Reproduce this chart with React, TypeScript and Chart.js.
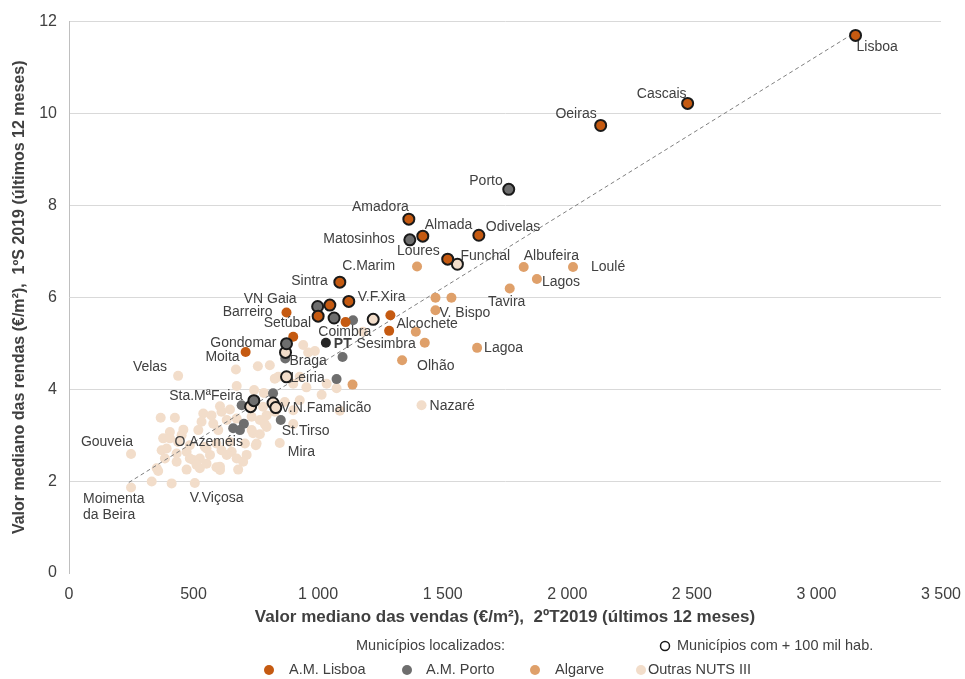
import React, { useEffect, useRef } from "react";
import { Chart, registerables } from "chart.js";

Chart.register(...registerables);

// ---------- DATA ----------
type P = [string, number, number];

const lisboaMajor: P[] = [
  ["Lisboa", 3157, 11.7],
  ["Cascais", 2483, 10.22],
  ["Oeiras", 2134, 9.74],
  ["Amadora", 1364, 7.7],
  ["Almada", 1420, 7.33],
  ["Odivelas", 1645, 7.35],
  ["Loures", 1520, 6.83],
  ["Sintra", 1087, 6.33],
  ["V.F.Xira", 1123, 5.91],
  ["", 1047, 5.83],
  ["Setúbal", 1000, 5.59],
];

const lisboaOther: P[] = [
  ["Barreiro", 873, 5.67],
  ["", 900, 5.14],
  ["Moita", 709, 4.81],
  ["", 1110, 5.46],
  ["Alcochete", 1290, 5.61],
  ["Sesimbra", 1285, 5.27],
];

const portoMajor: P[] = [
  ["Porto", 1765, 8.35],
  ["Matosinhos", 1368, 7.25],
  ["VN Gaia", 998, 5.8],
  ["", 1064, 5.55],
  ["Gondomar", 873, 4.99],
  ["Sta.MªFeira", 742, 3.75],
];

const portoOther: P[] = [
  ["", 1140, 5.5],
  ["", 1098, 4.7],
  ["", 1074, 4.22],
  ["", 868, 4.67],
  ["", 819, 3.91],
  ["", 693, 3.65],
  ["St.Tirso", 850, 3.33],
  ["", 659, 3.15],
  ["", 702, 3.25],
  ["O.Azeméis", 686, 3.11],
];

const algarve: P[] = [
  ["Albufeira", 1825, 6.66],
  ["Loulé", 2023, 6.66],
  ["Lagos", 1878, 6.4],
  ["Tavira", 1769, 6.19],
  ["C.Marim", 1397, 6.67],
  ["", 1471, 5.99],
  ["", 1535, 5.99],
  ["V. Bispo", 1471, 5.72],
  ["", 1392, 5.25],
  ["", 1428, 5.01],
  ["Lagoa", 1638, 4.9],
  ["Olhão", 1337, 4.63],
  ["", 1138, 4.1],
];

const outrasMajor: P[] = [
  ["Funchal", 1559, 6.72],
  ["Coimbra", 1221, 5.52],
  ["Braga", 869, 4.8],
  ["Leiria", 873, 4.27],
  ["", 729, 3.62],
  ["", 819, 3.7],
  ["V.N.Famalicão", 830, 3.6],
];

const outras: P[] = [
  ["Velas", 438, 4.29],
  ["Nazaré", 1415, 3.65],
  ["Mira", 846, 2.83],
  ["Gouveia", 249, 2.59],
  ["Moimenta\nda Beira", 249, 1.86],
  ["V.Viçosa", 505, 1.96],
  ["", 940, 4.96], ["", 987, 4.83], ["", 960, 4.8], ["", 670, 4.43], ["", 758, 4.5],
  ["", 806, 4.52], ["", 840, 4.27], ["", 926, 4.27], ["", 900, 4.12], ["", 1034, 4.12],
  ["", 1074, 4.02], ["", 1014, 3.88], ["", 673, 4.07], ["", 743, 3.98], ["", 782, 3.92],
  ["", 866, 3.72], ["", 926, 3.76], ["", 1087, 3.53], ["", 900, 3.24], ["", 766, 3.02],
  ["", 750, 2.78], ["", 332, 1.99], ["", 412, 1.95], ["", 358, 2.22], ["", 432, 2.42],
  ["", 472, 2.25], ["", 606, 2.24], ["", 368, 3.38], ["", 425, 3.38], ["", 826, 4.23],
  ["", 779, 3.62], ["", 793, 3.43], ["", 900, 3.54], ["", 539, 3.47], ["", 572, 3.43],
  ["", 532, 3.29], ["", 579, 3.25], ["", 612, 3.51], ["", 646, 3.56], ["", 633, 3.33],
  ["", 673, 3.36], ["", 599, 3.11], ["", 519, 3.11], ["", 459, 3.12], ["", 405, 3.07],
  ["", 378, 2.93], ["", 438, 2.85], ["", 485, 2.78], ["", 372, 2.67], ["", 432, 2.6],
  ["", 472, 2.64], ["", 525, 2.49], ["", 499, 2.46], ["", 566, 2.57], ["", 612, 2.67],
  ["", 653, 2.64], ["", 673, 2.49], ["", 713, 2.57], ["", 706, 2.82], ["", 739, 3.04],
  ["", 753, 2.82], ["", 766, 3.33], ["", 793, 3.18], ["", 733, 3.4], ["", 352, 2.28],
  ["", 525, 2.28], ["", 592, 2.3], ["", 679, 2.25], ["", 646, 2.85], ["", 592, 2.82],
  ["", 545, 2.75], ["", 826, 3.51], ["", 606, 3.63], ["", 786, 3.24], ["", 733, 3.11],
  ["", 405, 2.93], ["", 452, 3.0], ["", 392, 2.71], ["", 485, 2.49], ["", 552, 2.71],
  ["", 552, 2.38], ["", 512, 2.35], ["", 606, 2.31], ["", 385, 2.49], ["", 699, 2.42],
  ["", 633, 2.57], ["", 1180, 5.25], ["", 953, 4.04],
];

const portugal: P[] = [["PT", 1031, 5.01]];

const trend: [number, number][] = [
  [240, 1.97],
  [3145, 11.73],
];

const xTicks = [0, 500, 1000, 1500, 2000, 2500, 3000, 3500];
const yTicks = [0, 2, 4, 6, 8, 10, 12];

const xTitle = "Valor mediano das vendas (€/m²),  2ºT2019 (últimos 12 meses)";
const yTitle = "Valor mediano das rendas (€/m²),  1ºS 2019 (últimos 12 meses)";

const legendHeader = "Municípios localizados:";
const legendBig = "Municípios com + 100 mil hab.";
const legendGroups = ["A.M. Lisboa", "A.M. Porto", "Algarve", "Outras NUTS III"];

// ---------- STYLE ----------
const C_LISBOA = "#C55A11";
const C_PORTO = "#6E6E6E";
const C_ALGARVE = "#DFA06A";
const C_OUTRAS = "#F2DDCA";
const C_PT = "#262626";
const TXT = "#404040";
const FONT = "'Liberation Sans', Arial, sans-serif";

// label placement: [dx, dy, align]
const LABEL_POS: Record<string, [number, number, CanvasTextAlign]> = {
  Lisboa: [1, 12, "left"],
  Cascais: [-1, -9, "right"],
  Oeiras: [-4, -11, "right"],
  Porto: [-6, -8, "right"],
  Amadora: [0, -12, "right"],
  Almada: [2, -11, "left"],
  Odivelas: [7, -8, "left"],
  Matosinhos: [-15, -1, "right"],
  Loures: [-8, -8, "right"],
  Funchal: [3, -8, "left"],
  Albufeira: [0, -11, "left"],
  "Loulé": [18, 0, "left"],
  Lagos: [5, 3, "left"],
  Tavira: [-3, 14, "center"],
  "C.Marim": [-22, 0, "right"],
  Sintra: [-12, -1, "right"],
  "V.F.Xira": [9, -4, "left"],
  "VN Gaia": [-21, -7, "right"],
  Barreiro: [-14, 0, "right"],
  "Setúbal": [-7, 7, "right"],
  Coimbra: [-2, 13, "right"],
  Alcochete: [6, 9, "left"],
  Sesimbra: [-3, 13, "center"],
  PT: [8, 1, "left"],
  Gondomar: [-10, -1, "right"],
  Moita: [-6, 5, "right"],
  Braga: [4, 9, "left"],
  Leiria: [4, 1, "left"],
  Lagoa: [7, 0, "left"],
  "Olhão": [15, 6, "left"],
  "V. Bispo": [4, 3, "left"],
  "Nazaré": [8, 1, "left"],
  Velas: [-11, -9, "right"],
  "Sta.MªFeira": [-11, -5, "right"],
  "V.N.Famalicão": [5, 1, "left"],
  "St.Tirso": [1, 11, "left"],
  "O.Azeméis": [3, 12, "right"],
  Mira: [8, 9, "left"],
  Gouveia: [2, -12, "right"],
  "Moimenta\nda Beira": [-48, 12, "left"],
  "V.Viçosa": [-5, 15, "left"],
};

const fmtThousands = (v: number) => {
  if (v < 1000) return String(v);
  const th = Math.floor(v / 1000);
  const rest = String(v % 1000).padStart(3, "0");
  return `${th} ${rest}`;
};

const labelPlugin = {
  id: "pointLabels",
  afterDatasetsDraw(chart: any) {
    const ctx = chart.ctx as CanvasRenderingContext2D;
    chart.data.datasets.forEach((ds: any, i: number) => {
      if (!ds.names) return;
      const meta = chart.getDatasetMeta(i);
      meta.data.forEach((el: any, j: number) => {
        const name: string = ds.names[j];
        if (!name) return;
        const pos = LABEL_POS[name] || [6, 0, "left"];
        ctx.save();
        ctx.font = (name === "PT" ? "bold " : "") + "14px " + FONT;
        ctx.fillStyle = TXT;
        ctx.textAlign = pos[2];
        ctx.textBaseline = "middle";
        name.split("\n").forEach((line, k) => {
          ctx.fillText(line, el.x + pos[0], el.y + pos[1] + k * 16);
        });
        ctx.restore();
      });
    });
  },
};

const legendPlugin = {
  id: "customLegend",
  afterDraw(chart: any) {
    const ctx = chart.ctx as CanvasRenderingContext2D;
    ctx.save();
    ctx.font = "14.5px " + FONT;
    ctx.fillStyle = TXT;
    ctx.textBaseline = "middle";
    ctx.textAlign = "left";
    const y1 = 646;
    const y2 = 670;
    ctx.fillText(legendHeader, 356, y1);
    ctx.beginPath();
    ctx.arc(665, y1, 4.5, 0, Math.PI * 2);
    ctx.fillStyle = "#ffffff";
    ctx.fill();
    ctx.lineWidth = 1.5;
    ctx.strokeStyle = "#1a1a1a";
    ctx.stroke();
    ctx.fillStyle = TXT;
    ctx.fillText(legendBig, 677, y1);
    const items: [number, number, string][] = [
      [269, 289, C_LISBOA],
      [407, 426, C_PORTO],
      [535, 555, C_ALGARVE],
      [641, 648, C_OUTRAS],
    ];
    items.forEach(([cx, tx, col], k) => {
      ctx.beginPath();
      ctx.arc(cx, y2, 5, 0, Math.PI * 2);
      ctx.fillStyle = col;
      ctx.fill();
      ctx.fillStyle = TXT;
      ctx.fillText(legendGroups[k], tx, y2);
    });
    ctx.restore();
  },
};

const toPts = (arr: P[]) => arr.map((p) => ({ x: p[1], y: p[2] }));
const toNames = (arr: P[]) => arr.map((p) => p[0]);

export default function App() {
  const ref = useRef<HTMLCanvasElement | null>(null);

  useEffect(() => {
    if (!ref.current) return;
    const pointDs = (arr: P[], color: string, bordered: boolean, order: number) => ({
      type: "scatter" as const,
      data: toPts(arr),
      names: toNames(arr),
      backgroundColor: color,
      borderColor: bordered ? "#1a1a1a" : color,
      borderWidth: bordered ? 2 : 0,
      pointRadius: bordered ? 5.5 : 5,
      pointHoverRadius: bordered ? 5.5 : 5,
      order,
    });
    const chart = new Chart(ref.current, {
      type: "scatter",
      data: {
        datasets: [
          pointDs(outras, C_OUTRAS, false, 10),
          {
            type: "line" as const,
            data: trend.map(([x, y]) => ({ x, y })),
            borderColor: "#7f7f7f",
            borderWidth: 1,
            borderDash: [4, 3],
            pointRadius: 0,
            showLine: true,
            fill: false,
            order: 9,
          } as any,
          pointDs(algarve, C_ALGARVE, false, 8),
          pointDs(portoOther, C_PORTO, false, 7),
          pointDs(lisboaOther, C_LISBOA, false, 6),
          pointDs(outrasMajor, C_OUTRAS, true, 5),
          pointDs(portoMajor, C_PORTO, true, 4),
          pointDs(lisboaMajor, C_LISBOA, true, 3),
          pointDs(portugal, C_PT, false, 2),
        ] as any,
      },
      options: {
        animation: false,
        responsive: false,
        events: [],
        layout: { padding: { top: 21, right: 24, left: 0, bottom: 0 } },
        plugins: {
          legend: { display: false },
          tooltip: { enabled: false },
        },
        scales: {
          x: {
            type: "linear",
            min: 0,
            max: 3500,
            afterFit: (s: any) => {
              s.height = 106;
              s.paddingRight = 0;
              s.paddingLeft = 0;
            },
            afterBuildTicks: (s: any) => {
              s.ticks = xTicks.map((v) => ({ value: v }));
            },
            grid: { display: false, drawTicks: false },
            border: { display: false },
            ticks: {
              padding: 12,
              color: TXT,
              font: { family: FONT, size: 16 },
              callback: (v: any) => fmtThousands(Number(v)),
            },
            title: {
              display: true,
              text: xTitle,
              color: TXT,
              font: { family: FONT, size: 17, weight: "bold" },
              padding: { top: 0, bottom: 51 },
            },
          },
          y: {
            type: "linear",
            min: 0,
            max: 12,
            afterFit: (s: any) => {
              s.width = 69;
            },
            afterBuildTicks: (s: any) => {
              s.ticks = yTicks.map((v) => ({ value: v }));
            },
            grid: {
              drawTicks: false,
              color: (c: any) => (c.tick && c.tick.value === 0 ? "rgba(0,0,0,0)" : "#d9d9d9"),
              lineWidth: 1,
            },
            border: { display: true, color: "#bfbfbf", width: 1 },
            ticks: {
              padding: 12,
              color: TXT,
              font: { family: FONT, size: 16 },
            },
            title: {
              display: true,
              text: yTitle,
              color: TXT,
              font: { family: FONT, size: 16, weight: "bold" },
              padding: { top: 10, bottom: 0 },
            },
          },
        },
      } as any,
      plugins: [labelPlugin, legendPlugin],
    });
    return () => chart.destroy();
  }, []);

  return (
    <div style={{ position: "absolute", left: 0, top: 0, width: 965, height: 679, background: "#fff" }}>
      <canvas ref={ref} width={965} height={679} style={{ display: "block" }} />
    </div>
  );
}
